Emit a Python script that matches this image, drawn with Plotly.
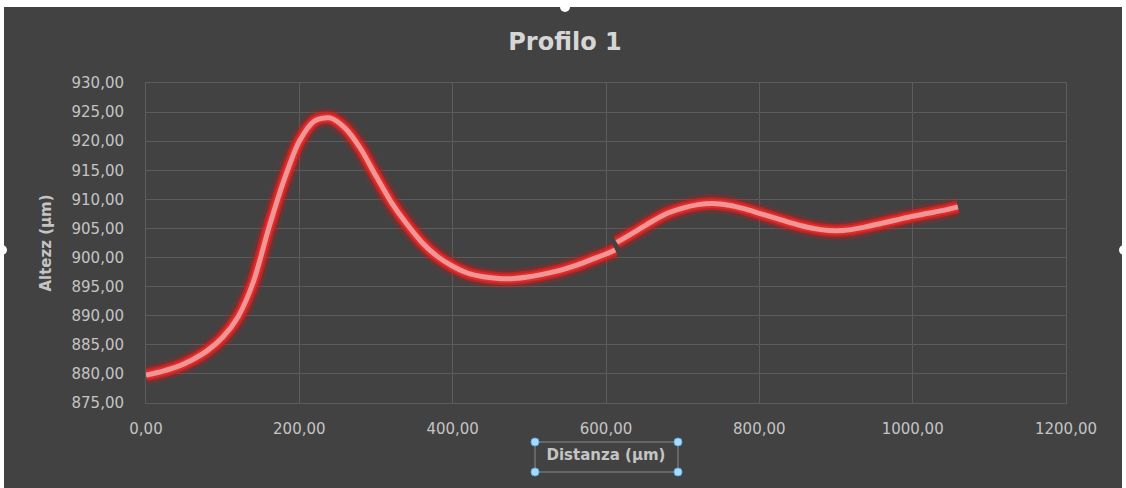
import plotly.graph_objects as go

# ---- data (distance in µm, height in µm) ----
dist_a = [0, 20, 40, 60, 80, 100, 120, 140, 160, 180, 200, 220, 240, 260, 280, 300,
          320, 340, 360, 380, 400, 420, 440, 460, 480, 500, 520, 540, 560, 580, 600, 612]
alt_a = [879.8, 880.4, 881.2, 882.4, 884.0, 886.3, 889.8, 895.8, 905.0, 913.3, 920.0,
         923.5, 924.0, 922.2, 918.7, 914.0, 909.5, 905.8, 902.6, 900.2, 898.5, 897.3,
         896.7, 896.4, 896.4, 896.7, 897.2, 897.8, 898.6, 899.6, 900.6, 901.3]
dist_b = [614, 640, 660, 680, 700, 720, 740, 760, 780, 800, 820, 840, 860, 880, 900,
          920, 940, 960, 980, 1000, 1020, 1040, 1059]
alt_b = [902.6, 904.6, 906.2, 907.6, 908.5, 909.1, 909.3, 909.0, 908.4, 907.6, 906.8,
         906.0, 905.3, 904.8, 904.6, 904.8, 905.3, 905.9, 906.5, 907.1, 907.6, 908.1, 908.7]

title_text = "Profilo 1"
x_title = "Distanza (µm)"
y_title = "Altezz (µm)"

# ---- geometry helpers (plot area in pixels) ----
L, R, T, B = 146, 1066, 83, 403
W, H = 1126, 488


def px(x):
    return (x - L) / (R - L)


def py(y):
    return (B - y) / (B - T)


BG = "#424242"
GRID = "#5c5c5c"
TXT = "#c4c4c4"

fig = go.Figure()

layers = [
    (20, "rgba(210,20,20,0.22)"),
    (13, "rgba(220,30,30,0.7)"),
    (9, "rgb(225,42,42)"),
    (5, "rgb(240,150,150)"),
]
for xs, ys in [(dist_a, alt_a), (dist_b, alt_b)]:
    for w, c in layers:
        fig.add_trace(go.Scatter(x=xs, y=ys, mode="lines",
                                 line=dict(color=c, width=w, shape="spline", smoothing=0.8),
                                 hoverinfo="skip", showlegend=False))

shapes = []
# white margins around the dark chart box
shapes.append(dict(type="rect", xref="paper", yref="paper", x0=px(-5), x1=px(W + 5),
                   y0=py(7), y1=py(-5), fillcolor="white", line=dict(width=0), layer="below"))
shapes.append(dict(type="rect", xref="paper", yref="paper", x0=px(-5), x1=px(4),
                   y0=py(W), y1=py(-5), fillcolor="white", line=dict(width=0), layer="below"))
shapes.append(dict(type="rect", xref="paper", yref="paper", x0=px(1122), x1=px(W + 5),
                   y0=py(W), y1=py(-5), fillcolor="white", line=dict(width=0), layer="below"))


def dot(cx, cy, r, color, line_color=None):
    return dict(type="circle", xref="paper", yref="paper",
                x0=px(cx - r), x1=px(cx + r), y0=py(cy + r), y1=py(cy - r),
                fillcolor=color, line=dict(width=1 if line_color else 0,
                                           color=line_color or color))


# selection handles of the chart frame
shapes.append(dot(565, 7, 5, "white"))
shapes.append(dot(2, 250, 5, "white"))
shapes.append(dot(1124, 250, 5, "white"))

# selected axis-title box with handles
shapes.append(dict(type="rect", xref="paper", yref="paper", x0=px(535), x1=px(678),
                   y0=py(472), y1=py(442), line=dict(color="#8a8a8a", width=1)))
for cx in (535, 678):
    for cy in (442, 472):
        shapes.append(dot(cx, cy, 4, "#a8dcff", "#5fb2ee"))

fig.update_layout(
    width=W, height=H,
    margin=dict(l=L, r=W - R, t=T, b=H - B),
    paper_bgcolor=BG, plot_bgcolor=BG,
    separators=",.",
    showlegend=False,
    shapes=shapes,
    title=dict(text="<b>" + title_text + "</b>", x=565 / W,
               xanchor="center", y=1 - 42 / H, yanchor="middle",
               font=dict(family="DejaVu Sans", size=24, color="#d6d6d6")),
    xaxis=dict(range=[0, 1200], dtick=200, tickformat=".2f", showgrid=True,
               gridcolor=GRID, gridwidth=1, zeroline=False, showline=True,
               linecolor=GRID, mirror=True, ticks="", ticklabelstandoff=12,
               tickfont=dict(family="DejaVu Sans", size=15, color=TXT),
               title=dict(text="<b>" + x_title + "</b>", standoff=12,
                          font=dict(family="DejaVu Sans", size=15, color=TXT))),
    yaxis=dict(range=[875, 930], dtick=5, tickformat=".2f", showgrid=True,
               gridcolor=GRID, gridwidth=1, zeroline=False, showline=True,
               linecolor=GRID, mirror=True, ticks="", ticklabelstandoff=18,
               tickfont=dict(family="DejaVu Sans", size=15, color=TXT),
               title=dict(text="<b>" + y_title + "</b>", standoff=16,
                          font=dict(family="DejaVu Sans", size=15, color=TXT))),
)

fig.write_html("out.html", config={"displayModeBar": False},
               post_script="document.body.style.margin='0';")
